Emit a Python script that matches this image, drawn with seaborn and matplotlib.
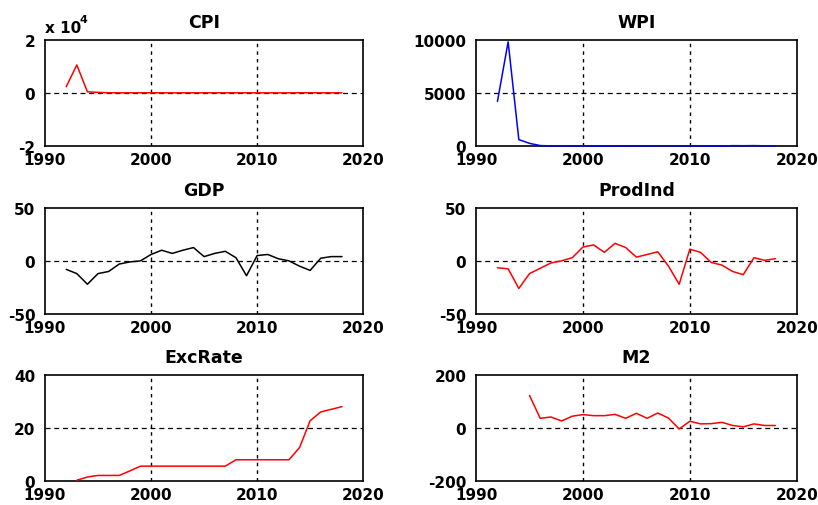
import numpy as np
import pandas as pd
import matplotlib
matplotlib.use("Agg")
import matplotlib.pyplot as plt
import seaborn as sns

# --- data (annual) ---
years = list(range(1992, 2019))

cpi = [2300, 10500, 400, 180, 40, 10, 20, 19, 26, 6, -1, 8, 12, 10,
       12, 17, 22, 12, 9, 5, 0, 1, 25, 43, 12, 14, 10]
wpi = [4200, 9800, 600, 250, 40, 8, 13, 15, 21, 1, 3, 8, 20, 10,
       10, 23, 23, 14, 19, 14, 0, 2, 32, 25, 35, 17, 14]
gdp = [-8, -12, -22, -12, -10, -3, -1, 0, 6, 10, 7, 10, 12.5, 4,
       7, 9, 3, -14, 5, 6, 2, 0, -5, -9, 2.5, 4, 4]
prodind = [-6.5, -7.5, -26, -12, -7, -2, 0, 3, 13, 15, 8, 16.5, 12.5, 3.5,
           6, 8.5, -5, -22, 11, 8, -1.5, -4, -10, -13, 3, 0.5, 2]
excrate = [np.nan, 0.3, 1.5, 2.1, 2.1, 2.1, 3.8, 5.6, 5.6, 5.6, 5.6, 5.6, 5.6, 5.6,
           5.6, 5.6, 8, 8, 8, 8, 8, 8, 12.6, 22.7, 26, 27, 28]
m2 = [np.nan, np.nan, np.nan, 122, 36, 41, 26, 44, 50, 46, 46, 51, 36, 55,
      36, 56, 37, -4, 25, 15, 16, 21, 9, 4, 15, 9, 9]

titles = ["CPI", "WPI", "GDP", "ProdInd", "ExcRate", "M2"]
series = [np.array(cpi) / 1e4, wpi, gdp, prodind, excrate, m2]
colors = ["red", "blue", "black", "red", "red", "red"]
ylims = [(-2, 2), (0, 10000), (-50, 50), (-50, 50), (0, 40), (-200, 200)]
xticks = [1990, 2000, 2010, 2020]

sns.set_style("white")
plt.rcParams["font.family"] = ["DejaVu Sans"]
plt.rcParams["font.weight"] = "bold"
plt.rcParams["text.color"] = "black"

fig = plt.figure(figsize=(8.18, 5.06), dpi=100)

# axes boxes in figure fractions (left, bottom, width, height)
lefts = [0.055, 0.582]
bottoms = [0.7095, 0.3775, 0.0474]
width = [0.389, 0.392]
height = 0.21

for i, (title, vals, col, ylim) in enumerate(zip(titles, series, colors, ylims)):
    r, c = divmod(i, 2)
    ax = fig.add_axes([lefts[c], bottoms[r], width[c], height])
    df = pd.DataFrame({"year": years, "value": vals})

    yticks = [ylim[0], (ylim[0] + ylim[1]) / 2, ylim[1]]
    # grid only on the inner ticks (the outer ones sit on the box)
    for xt in xticks[1:-1]:
        ax.axvline(xt, color="black", linestyle=(0, (2.5, 3)), linewidth=1.0, zorder=0.5)
    ax.axhline(yticks[1], color="black", linestyle=(0, (4, 3)), linewidth=0.9, zorder=0.5)

    sns.lineplot(data=df, x="year", y="value", color=col, linewidth=1.1,
                 ax=ax, zorder=6, clip_on=False)

    ax.set_xlim(1990, 2020)
    ax.set_ylim(*ylim)
    ax.set_xticks(xticks)
    ax.set_yticks(yticks)
    ax.yaxis.set_major_formatter(matplotlib.ticker.FormatStrFormatter("%g"))
    ax.set_xlabel("")
    ax.set_ylabel("")
    ax.set_title(title, fontsize=12.5, fontweight="bold", pad=9, color="black")

    for s in ax.spines.values():
        s.set_color("black")
        s.set_linewidth(1.2)
        s.set_zorder(5)
    ax.tick_params(direction="in", length=3, width=0.8, labelsize=11,
                   colors="black")
    ax.tick_params(axis="x", pad=4)
    ax.tick_params(axis="y", pad=7)
    for lab in ax.get_xticklabels() + ax.get_yticklabels():
        lab.set_fontweight("bold")

    if title == "CPI":
        ax.text(0.0, 1.07, "x 10", transform=ax.transAxes, fontsize=11,
                fontweight="bold", ha="left", va="baseline")
        ax.text(0.108, 1.17, "4", transform=ax.transAxes, fontsize=8,
                fontweight="bold", ha="left", va="baseline")

fig.savefig("out.png", dpi=100)
